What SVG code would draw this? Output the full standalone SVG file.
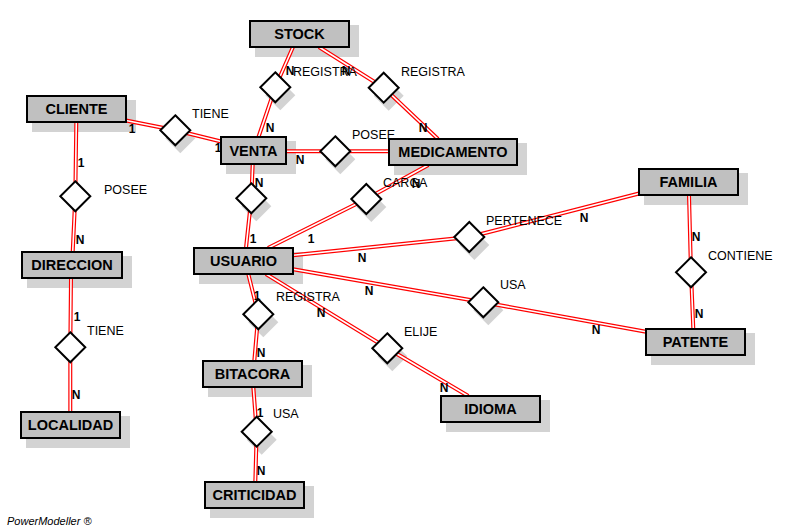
<svg xmlns="http://www.w3.org/2000/svg" xmlns:xlink="http://www.w3.org/1999/xlink" width="801" height="528" viewBox="0 0 801 528">
<style>
  .bg{fill:#ffffff}
  .sh{fill:#d3d3d3}
  .ent{fill:#c0c0c0;stroke:#000;stroke-width:2}
  .en{font-family:"Liberation Sans",Arial,sans-serif;font-weight:bold;font-size:14.5px;fill:#000;text-anchor:middle}
  .dia{fill:#fff;stroke:#000;stroke-width:2;stroke-linejoin:miter}
  .lbl{font-family:"Liberation Sans",Arial,sans-serif;font-size:12.5px;fill:#000}
  .card{font-family:"Liberation Sans",Arial,sans-serif;font-weight:bold;font-size:12px;fill:#000;text-anchor:middle}
  .o{fill:none;stroke:#ff0000;stroke-width:4;stroke-linejoin:round}
  .i{fill:none;stroke:#ffffff;stroke-width:1.6;stroke-linejoin:round}
  .pm{font-family:"Liberation Sans",Arial,sans-serif;font-style:italic;font-size:11px;fill:#000}
</style>
<defs>
  <polyline id="c1" points="293,47 275.3,87.3 258.5,137"/>
  <polyline id="c2" points="319,47 383.7,87.7 438,139"/>
  <polyline id="c3" points="126,120.5 175.3,130.3 221,141.5"/>
  <polyline id="c4" points="286,151.3 335.3,151.3 389,151.3"/>
  <polyline id="c5" points="76.3,122 75.3,196.3 72.7,252"/>
  <polyline id="c6" points="252.7,164 251.3,198.3 246,248"/>
  <polyline id="c7" points="268,248 366.3,199 428.3,165"/>
  <polyline id="c8" points="293,255.3 469.3,237 639,193.5"/>
  <polyline id="c9" points="293,269.3 483.3,302.3 646,331.7"/>
  <polyline id="c10" points="266,274 387.3,348.3 468.3,396"/>
  <polyline id="c11" points="248.3,274 258.3,314.3 254.3,361"/>
  <polyline id="c12" points="253.3,387 256.7,431.7 255.3,482"/>
  <polyline id="c13" points="689,195 691,272.3 693.3,329"/>
  <polyline id="c14" points="71,278 70.3,347.3 70.3,412"/>
  <polygon id="dm" points="0,-15 15,0 0,15 -15,0"/>
</defs>
<rect class="bg" x="0" y="0" width="801" height="528"/>

<!-- entity shadows -->
<g id="shadows">
  <rect class="sh" x="255" y="25" width="104" height="32"/>
  <rect class="sh" x="32" y="100" width="104" height="32"/>
  <rect class="sh" x="226" y="141" width="70" height="33"/>
  <rect class="sh" x="394" y="143" width="133" height="32"/>
  <rect class="sh" x="644" y="173" width="104" height="32"/>
  <rect class="sh" x="27" y="256" width="105" height="32"/>
  <rect class="sh" x="199" y="252" width="104" height="32"/>
  <rect class="sh" x="208" y="365" width="104" height="32"/>
  <rect class="sh" x="26" y="416" width="104" height="32"/>
  <rect class="sh" x="210" y="486" width="104" height="32"/>
  <rect class="sh" x="446" y="400" width="104" height="32"/>
  <rect class="sh" x="651" y="333" width="104" height="32"/>
</g>

<!-- diamond shadows -->
<g id="dshadows">
  <use href="#dm" class="sh" x="280.3" y="95.3"/>
  <use href="#dm" class="sh" x="388.7" y="95.7"/>
  <use href="#dm" class="sh" x="180.3" y="138.3"/>
  <use href="#dm" class="sh" x="340.3" y="159.3"/>
  <use href="#dm" class="sh" x="256.3" y="206.3"/>
  <use href="#dm" class="sh" x="371.3" y="207"/>
  <use href="#dm" class="sh" x="474.3" y="245"/>
  <use href="#dm" class="sh" x="488.3" y="310.3"/>
  <use href="#dm" class="sh" x="392.3" y="356.3"/>
  <use href="#dm" class="sh" x="263.3" y="322.3"/>
  <use href="#dm" class="sh" x="261.7" y="439.7"/>
</g>

<g id="connectors">
  <use href="#c1" class="o"/><use href="#c1" class="i"/>
  <use href="#c2" class="o"/><use href="#c2" class="i"/>
  <use href="#c3" class="o"/><use href="#c3" class="i"/>
  <use href="#c4" class="o"/><use href="#c4" class="i"/>
  <use href="#c5" class="o"/><use href="#c5" class="i"/>
  <use href="#c6" class="o"/><use href="#c6" class="i"/>
  <use href="#c7" class="o"/><use href="#c7" class="i"/>
  <use href="#c8" class="o"/><use href="#c8" class="i"/>
  <use href="#c9" class="o"/><use href="#c9" class="i"/>
  <use href="#c10" class="o"/><use href="#c10" class="i"/>
  <use href="#c11" class="o"/><use href="#c11" class="i"/>
  <use href="#c12" class="o"/><use href="#c12" class="i"/>
  <use href="#c13" class="o"/><use href="#c13" class="i"/>
  <use href="#c14" class="o"/><use href="#c14" class="i"/>
  <!-- cardinalities -->
  <text class="card" x="290" y="75">N</text>
  <text class="card" x="270" y="132">N</text>
  <text class="card" x="346" y="75">N</text>
  <text class="card" x="423" y="132">N</text>
  <text class="card" x="132" y="133">1</text>
  <text class="card" x="218" y="152">1</text>
  <text class="card" x="300" y="164">N</text>
  <text class="card" x="81" y="167">1</text>
  <text class="card" x="80" y="244">N</text>
  <text class="card" x="259" y="187">N</text>
  <text class="card" x="253" y="243">1</text>
  <text class="card" x="311" y="243">1</text>
  <text class="card" x="416" y="188">N</text>
  <text class="card" x="362" y="262">N</text>
  <text class="card" x="584" y="222">N</text>
  <text class="card" x="696" y="241">N</text>
  <text class="card" x="699" y="318">N</text>
  <text class="card" x="369" y="295">N</text>
  <text class="card" x="596" y="334">N</text>
  <text class="card" x="321" y="317">N</text>
  <text class="card" x="444" y="392">N</text>
  <text class="card" x="257" y="300">1</text>
  <text class="card" x="261" y="357">N</text>
  <text class="card" x="260" y="417">1</text>
  <text class="card" x="261" y="475">N</text>
  <text class="card" x="77" y="321">1</text>
  <text class="card" x="76" y="399">N</text>
</g>

<!-- relationships -->
<g id="r-registra-stock-venta"><use href="#dm" class="dia" x="275.3" y="87.3"/><text class="lbl" x="293" y="76">REGISTRA</text></g>
<g id="r-registra-stock-med"><use href="#dm" class="dia" x="383.7" y="87.7"/><text class="lbl" x="401" y="76">REGISTRA</text></g>
<g id="r-tiene-cliente-venta"><use href="#dm" class="dia" x="175.3" y="130.3"/><text class="lbl" x="192" y="118">TIENE</text></g>
<g id="r-posee-venta-med"><use href="#dm" class="dia" x="335.3" y="151.3"/><text class="lbl" x="352" y="139">POSEE</text></g>
<g id="r-posee-cliente-dir"><use href="#dm" class="dia" x="75.3" y="196.3"/><text class="lbl" x="104" y="194">POSEE</text></g>
<g id="r-venta-usuario"><use href="#dm" class="dia" x="251.3" y="198.3"/></g>
<g id="r-carga"><use href="#dm" class="dia" x="366.3" y="199"/><text class="lbl" x="383" y="187">CARGA</text></g>
<g id="r-pertenece"><use href="#dm" class="dia" x="469.3" y="237"/><text class="lbl" x="486" y="225">PERTENECE</text></g>
<g id="r-contiene"><use href="#dm" class="dia" x="691" y="272.3"/><text class="lbl" x="708" y="260">CONTIENE</text></g>
<g id="r-usa-patente"><use href="#dm" class="dia" x="483.3" y="302.3"/><text class="lbl" x="500" y="289">USA</text></g>
<g id="r-elije"><use href="#dm" class="dia" x="387.3" y="348.3"/><text class="lbl" x="404" y="336">ELIJE</text></g>
<g id="r-registra-bitacora"><use href="#dm" class="dia" x="258.3" y="314.3"/><text class="lbl" x="276" y="301">REGISTRA</text></g>
<g id="r-usa-criticidad"><use href="#dm" class="dia" x="256.7" y="431.7"/><text class="lbl" x="273" y="418">USA</text></g>
<g id="r-tiene-dir-loc"><use href="#dm" class="dia" x="70.3" y="347.3"/><text class="lbl" x="87" y="335">TIENE</text></g>

<!-- entities -->
<g id="stock"><rect class="ent" x="250" y="21" width="99" height="26"/><text class="en" x="299.5" y="39.2">STOCK</text></g>
<g id="cliente"><rect class="ent" x="27" y="96" width="99" height="26"/><text class="en" x="76.5" y="114.2">CLIENTE</text></g>
<g id="venta"><rect class="ent" x="221" y="137" width="65" height="27"/><text class="en" x="253.5" y="155.7">VENTA</text></g>
<g id="medicamento"><rect class="ent" x="389" y="139" width="128" height="26"/><text class="en" x="453" y="157.2">MEDICAMENTO</text></g>
<g id="familia"><rect class="ent" x="639" y="169" width="99" height="26"/><text class="en" x="688.5" y="187.2">FAMILIA</text></g>
<g id="direccion"><rect class="ent" x="22" y="252" width="100" height="26"/><text class="en" x="72" y="270.2">DIRECCION</text></g>
<g id="usuario"><rect class="ent" x="194" y="248" width="99" height="26"/><text class="en" x="243.5" y="266.2">USUARIO</text></g>
<g id="bitacora"><rect class="ent" x="203" y="361" width="99" height="26"/><text class="en" x="252.5" y="379.2">BITACORA</text></g>
<g id="localidad"><rect class="ent" x="21" y="412" width="99" height="26"/><text class="en" x="70.5" y="430.2">LOCALIDAD</text></g>
<g id="criticidad"><rect class="ent" x="205" y="482" width="99" height="26"/><text class="en" x="254.5" y="500.2">CRITICIDAD</text></g>
<g id="idioma"><rect class="ent" x="441" y="396" width="99" height="26"/><text class="en" x="490.5" y="414.2">IDIOMA</text></g>
<g id="patente"><rect class="ent" x="646" y="329" width="99" height="26"/><text class="en" x="695.5" y="347.2">PATENTE</text></g>

<text class="pm" x="7" y="525">PowerModeller ®</text>
</svg>
